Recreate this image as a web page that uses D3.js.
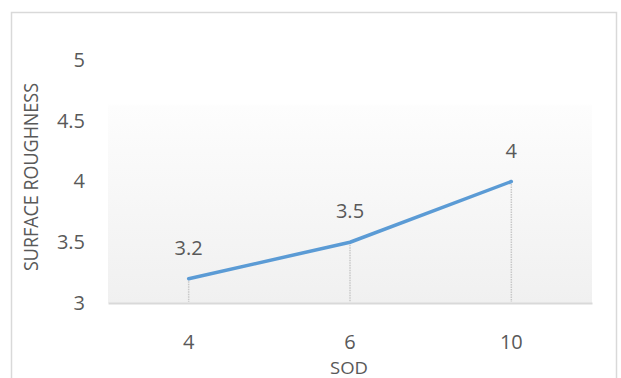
<!DOCTYPE html>
<html><head><meta charset="utf-8">
<script src="https://cdn.jsdelivr.net/npm/d3@7"></script>
<style>body{margin:0;background:#fff}svg{display:block}text{font-family:"Open Sans",sans-serif;fill:#595959}</style>
</head><body><svg id="c" width="621" height="378"></svg>
<script>
const categories = ["4", "6", "10"];
const values = [3.2, 3.5, 4];
const yTicks = [3, 3.5, 4, 4.5, 5];
const xTitle = "SOD";
const yTitle = "SURFACE ROUGHNESS";

const svg = d3.select("#c");
const m = {l:108, r:592, t:60, b:303};
const x = d3.scaleBand().domain(categories).range([m.l, m.r]);
const y = d3.scaleLinear().domain([3, 5]).range([m.b, m.t]);
const FS = 20;

svg.append("rect").attr("x",11.5).attr("y",12.5).attr("width",605).attr("height",370)
  .attr("fill","#fff").attr("stroke","#d9d9d9").attr("stroke-width",1.5);

const defs = svg.append("defs");
const g = defs.append("linearGradient").attr("id","pg").attr("x1",0).attr("y1",0).attr("x2",0).attr("y2",1);
g.append("stop").attr("offset","0%").attr("stop-color","#ffffff");
g.append("stop").attr("offset","18%").attr("stop-color","#ffffff");
g.append("stop").attr("offset","19%").attr("stop-color","#fdfdfd");
g.append("stop").attr("offset","100%").attr("stop-color","#f0f0f0");
svg.append("rect").attr("x",m.l).attr("y",m.t).attr("width",m.r-m.l).attr("height",m.b-m.t).attr("fill","url(#pg)");

// y axis labels
const yAxis = d3.axisLeft(y).tickValues(yTicks).tickSize(0).tickPadding(0).tickFormat(d3.format("~g"));
const ya = svg.append("g").attr("transform",`translate(85,0)`).call(yAxis);
ya.select(".domain").remove();
ya.selectAll("text").attr("font-size",FS).attr("fill","#595959").attr("font-family","Open Sans, sans-serif");

// x axis
const xAxis = d3.axisBottom(x).tickSize(0).tickPadding(0);
const xa = svg.append("g").attr("transform",`translate(0,${m.b})`).call(xAxis);
xa.select(".domain").attr("stroke","#d9d9d9").attr("stroke-width",2);
xa.selectAll("text").attr("font-size",FS).attr("fill","#595959").attr("font-family","Open Sans, sans-serif").attr("dy",null).attr("y",46);

const cx = d => x(d) + x.bandwidth()/2;
// drop lines
svg.selectAll(".drop").data(categories).enter().append("line")
  .attr("x1",cx).attr("x2",cx).attr("y1",(d,i)=>y(values[i])).attr("y2",m.b-1)
  .attr("stroke","#c8c8c8").attr("stroke-width",1.5).attr("stroke-dasharray","1.5,1");

const line = d3.line().x((d,i)=>cx(categories[i])).y(d=>y(d));
svg.append("path").datum(values).attr("d",line).attr("fill","none")
  .attr("stroke","#5b9bd5").attr("stroke-width",3.5).attr("stroke-linecap","round").attr("stroke-linejoin","round");

svg.selectAll(".lbl").data(values).enter().append("text")
  .attr("x",(d,i)=>cx(categories[i])).attr("y",d=>y(d)-24).attr("text-anchor","middle")
  .attr("font-size",FS).text(d=>d3.format("~g")(d));

svg.append("text").attr("x",349).attr("y",374).attr("text-anchor","middle").attr("font-size",17)
  .attr("textLength",38).attr("lengthAdjust","spacingAndGlyphs").text(xTitle);
svg.append("text").attr("transform","translate(38,177) rotate(-90)").attr("text-anchor","middle").attr("font-size",FS)
  .attr("textLength",188).attr("lengthAdjust","spacingAndGlyphs").text(yTitle);
</script></body></html>
